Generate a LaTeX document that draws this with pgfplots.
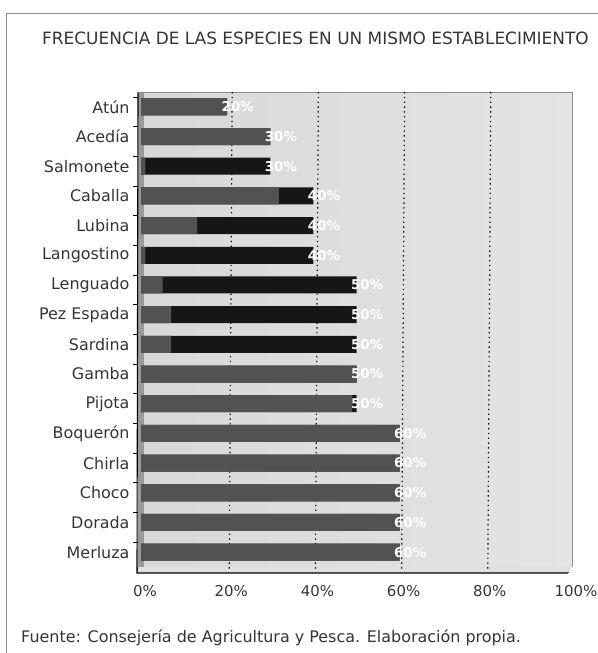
\documentclass[border=0pt]{standalone}
\usepackage{fontspec}
\setmainfont{DejaVu Sans}
\usepackage{pgfplots}
\pgfplotsset{compat=1.18}
\usepackage{pgfplotstable}
\definecolor{wallgray}{HTML}{D8D8D8}
\definecolor{wallright}{HTML}{E4E4E4}
\definecolor{sidegray}{HTML}{9A9A9A}
\definecolor{bargray}{HTML}{525252}
\definecolor{barblack}{HTML}{161616}
\definecolor{txt}{HTML}{353535}
\definecolor{framegray}{HTML}{8C8C8C}

% pos: category index (0 = top); total = value; gray = length of the grey start of the bar (rest is black)
\pgfplotstableread{
pos gray total
0 20 20
1 30 30
2 1 30
3 32 40
4 13 40
5 1 40
6 5 50
7 7 50
8 7 50
9 50 50
10 49 50
11 60 60
12 60 60
13 60 60
14 60 60
15 60 60
}\datatable

\begin{document}
\begin{tikzpicture}
\useasboundingbox (0,0) rectangle (598bp,653bp);
\fill[white] (0,0) rectangle (598bp,653bp);
\draw[framegray, line width=0.9bp] (6bp,-2bp) -- (6bp,640bp) -- (600bp,640bp);
\node[anchor=west, text=txt, font=\fontsize{17}{20}\selectfont, inner sep=0pt] at (42bp,615bp) {FRECUENCIA DE LAS ESPECIES EN UN MISMO ESTABLECIMIENTO};
\node[anchor=west, text=txt, font=\fontsize{16}{18}\selectfont, inner sep=0pt] at (21bp,15bp) {Fuente: Consejería de Agricultura y Pesca. Elaboración propia.};
\begin{axis}[
  at={(141bp,86bp)}, anchor=south west,
  scale only axis, width=431bp, height=475bp,
  xbar, bar shift=0pt, bar width=17bp,
  xmin=0, xmax=100, ymin=-0.5, ymax=15.5, y dir=reverse,
  xtick={0,20,...,100},
  xticklabel={\pgfmathprintnumber{\tick}\%},
  /pgf/number format/assume math mode=true,
  ytick={0,...,15},
  yticklabels={Atún,Acedía,Salmonete,Caballa,Lubina,Langostino,Lenguado,Pez Espada,Sardina,Gamba,Pijota,Boquerón,Chirla,Choco,Dorada,Merluza},
  minor ytick={-0.5,0.5,...,14.5},
  xtick pos=bottom, ytick pos=left,
  tick align=outside,
  major tick length=0pt,
  minor tick length=6bp,
  xtick style={black, line width=1bp, xshift=-4bp, /pgfplots/major tick length=6bp},
  ytick style={black, line width=1bp, yshift=-5bp, xshift=-2bp},
  yticklabel style={text=txt, font=\fontsize{16}{18}\selectfont, xshift=-8bp},
  xticklabel style={text=txt, font=\fontsize{15}{17}\selectfont, xshift=4bp, yshift=-15bp},
  axis line style={draw=none},
  axis background/.style={left color=wallgray, right color=wallright},
  clip=false,
]
% left side wall and floor of the 3D frame
\fill[sidegray] ([xshift=-3bp]axis cs:0,-0.5) rectangle ([xshift=3bp]axis cs:0,15.5);
\fill[black!12] ([yshift=-6bp, xshift=-4bp]axis cs:0,15.5) -- ([xshift=-3bp]axis cs:0,15.5) -- (axis cs:100,15.5) -- ([yshift=-6bp, xshift=-4bp]axis cs:100,15.5) -- cycle;
\draw[black, line width=1.1bp] ([xshift=-3bp]axis cs:0,-0.5) -- ([yshift=-6bp, xshift=-4bp]axis cs:0,15.5) -- ([yshift=-6bp, xshift=-4bp]axis cs:100,15.5);
\draw[black!45, line width=0.6bp] ([xshift=-3bp]axis cs:0,-0.5) -- (axis cs:100,-0.5) -- (axis cs:100,15.5);
\pgfplotsinvokeforeach{20,40,60,80}{
  \draw[black, line width=1.2bp, dash pattern=on 1.4bp off 3.4bp] ([xshift=5bp]axis cs:#1,-0.5) -- ([xshift=2bp, yshift=-4bp]axis cs:#1,15.5);
}
\addplot[fill=barblack, draw=none] table[x=total, y=pos] {\datatable};
\addplot[fill=bargray, draw=none] table[x=gray, y=pos] {\datatable};
\addplot[fill=none, draw=none, point meta=explicit,
  nodes near coords={\pgfmathprintnumber{\pgfplotspointmeta}\%},
  every node near coord/.append style={text=white, font=\bfseries\fontsize{13.5}{15}\selectfont, anchor=west, xshift=-9bp}]
  table[x=total, y=pos, meta=total] {\datatable};
\end{axis}
\end{tikzpicture}
\end{document}
